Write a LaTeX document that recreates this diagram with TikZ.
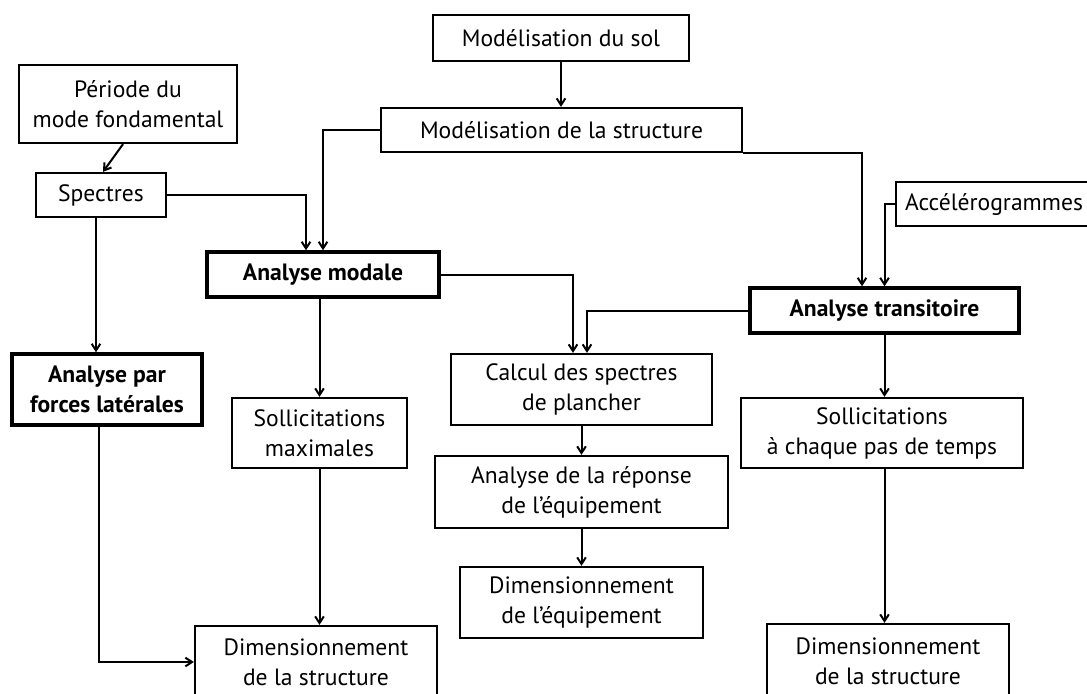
\documentclass[tikz,border=0pt]{standalone}
\usepackage{fontspec}
\setmainfont{PT Sans}
\usetikzlibrary{arrows.meta,calc}

\tikzset{every picture/.style={line width=0.75pt}}
\tikzset{
  procbox/.style={draw, line width=1.7pt, inner sep=0pt, align=center, font=\fontsize{17.7}{22.5}\selectfont},
  keybox/.style={procbox, line width=2.6pt, font=\fontsize{17.7}{22.5}\selectfont\bfseries},
  flow/.style={line width=1.5pt, -{Straight Barb[length=5pt,width=6.5pt]}}
}

\begin{document}
\begin{tikzpicture}[x=0.75pt,y=0.75pt,yscale=-1,xscale=1]
\path[use as bounding box, clip] (0,0) rectangle (1087,693);

%Flowchart: Process - modelling
\node[procbox, minimum width=192pt, minimum height=34.5pt] (sol) at (561,38) {Modélisation du sol};
\node[procbox, minimum width=270.75pt, minimum height=33pt] (stru) at (561.5,130) {Modélisation de la structure};
\node[procbox, minimum width=163.5pt, minimum height=58.5pt] (periode) at (128,104) {Période du\\mode fondamental};
\node[procbox, minimum width=97.5pt, minimum height=33pt] (spectres) at (101,195) {Spectres};
\node[procbox, minimum width=147pt, minimum height=33pt] (accel) at (994,204) {Accélérogrammes};

%Flowchart: Process - analyses
\node[keybox, minimum width=174pt, minimum height=33.75pt] (modale) at (323,274.5) {Analyse modale};
\node[keybox, minimum width=142.5pt, minimum height=53.25pt] (forces) at (107,389.5) {Analyse par\\forces latérales};
\node[keybox, minimum width=201.75pt, minimum height=33.75pt] (transit) at (884.5,310.5) {Analyse transitoire};

%Flowchart: Process - results
\node[procbox, minimum width=131.25pt, minimum height=52.5pt] (solmax) at (319.5,433) {Sollicitations\\maximales};
\node[procbox, minimum width=195.75pt, minimum height=53.25pt] (calcul) at (581.5,389.5) {Calcul des spectres\\de plancher};
\node[procbox, minimum width=219.75pt, minimum height=54pt] (reponse) at (581.5,492) {Analyse de la réponse\\de l’équipement};
\node[procbox, minimum width=182.25pt, minimum height=53.25pt] (dimeq) at (581.5,602.5) {Dimensionnement\\de l’équipement};
\node[procbox, minimum width=211.5pt, minimum height=52.5pt] (soltemps) at (882,433) {Sollicitations\\à chaque pas de temps};
\node[procbox, minimum width=181.5pt, minimum height=54pt] (dimstr1) at (316,662) {Dimensionnement\\de la structure};
\node[procbox, minimum width=181.5pt, minimum height=55.5pt] (dimstr2) at (888,661) {Dimensionnement\\de la structure};

%Connectors
\coordinate (s1) at ($(spectres.south)+(-5,0)$);
\coordinate (m1) at ($(modale.north)+(-17,0)$);
\coordinate (f1) at ($(forces.south)+(-8,0)$);
\coordinate (c1) at ($(calcul.north)+(-8.5,0)$);
\coordinate (c2) at ($(calcul.north)+(5.5,0)$);
\coordinate (t1) at ($(transit.north)+(-22.5,0)$);

\draw[flow] (sol.south) -- (sol.south |- stru.north);
\draw[flow] ($(periode.south)+(-5,0)$) -- ($(spectres.north)+(2,0)$);
\draw[flow] (s1) -- (s1 |- forces.north);
\draw[flow] (spectres.east) -| (m1);
\draw[flow] (stru.west) -| (modale.north);
\draw[flow] (modale.south -| solmax.north) -- (solmax.north);
\draw[flow] (solmax.south) -- (solmax.south |- dimstr1.north);
\draw[flow] (f1) |- (dimstr1.west);
\draw[flow] (modale.east) -| (c1);
\draw[flow] (transit.west) -| (c2);
\draw[flow] (calcul.south) -- (reponse.north);
\draw[flow] (reponse.south) -- (dimeq.north);
\draw[flow] (stru.south east) -| (t1);
\draw[flow] (accel.west) -| (transit.north);
\draw[flow] (transit.south) -- (transit.south |- soltemps.north);
\draw[flow] (soltemps.south -| transit.south) -- (transit.south |- dimstr2.north);

\end{tikzpicture}
\end{document}
